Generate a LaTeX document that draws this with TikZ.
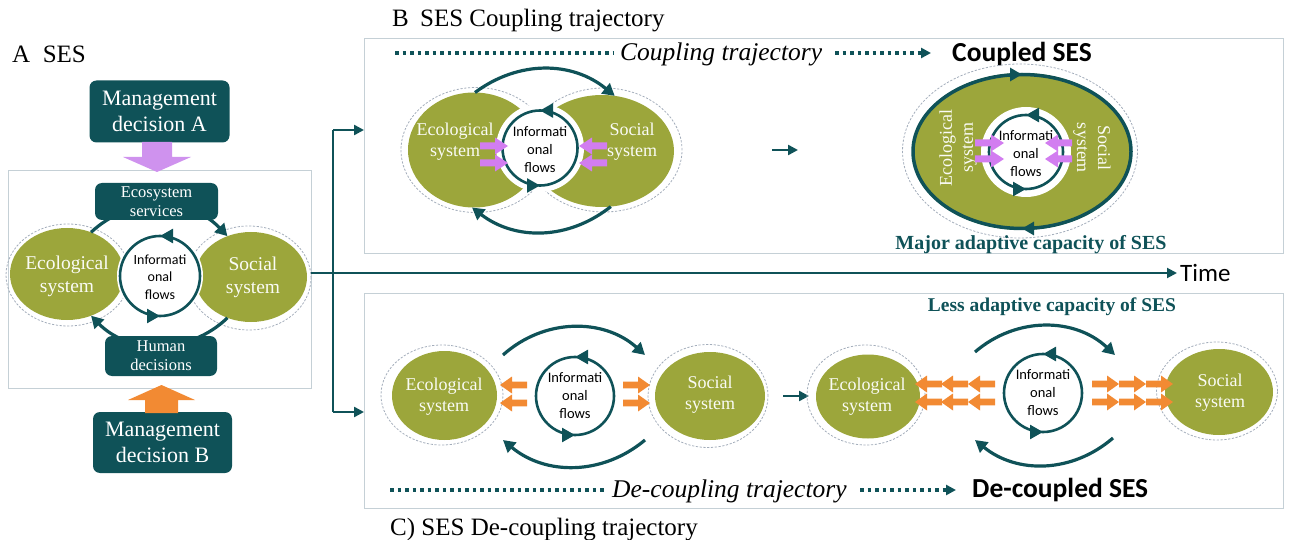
\documentclass[tikz,border=0pt]{standalone}
\usepackage{fontspec}
\setmainfont{Liberation Serif}
\newfontfamily\calfont{Carlito}
\usetikzlibrary{arrows.meta,shapes.geometric,decorations.markings}
\definecolor{sesteal}{HTML}{0F5258}
\definecolor{sesgreen}{HTML}{9CA63B}
\definecolor{sesviolet}{HTML}{D27DF0}
\definecolor{seslilac}{HTML}{CF92EE}
\definecolor{sesorange}{HTML}{F28A33}
\definecolor{panelline}{HTML}{C5D0D6}
\definecolor{halogray}{HTML}{A3ADBB}
% block arrow: colour, tail point, direction, length, head length, shaft half width, head half width
\newcommand{\fatarrow}[7]{%
  \fill[#1,shift={#2},rotate=#3] (0,-#6) -- ({#4-#5},-#6) -- ({#4-#5},-#7) -- (#4,0)
    -- ({#4-#5},#7) -- ({#4-#5},#6) -- (0,#6) -- cycle;}
\newcommand{\fs}[2]{\fontsize{#1}{#2}\selectfont}
\begin{document}
\begin{tikzpicture}[x=1pt,y=-1pt,
  panel/.style={draw=panelline, line width=1pt, inner sep=0pt, outer sep=0pt},
  sbox/.style={fill=sesteal, rounded corners=7pt, text=white, align=center, inner sep=0pt, outer sep=0pt},
  sys/.style={ellipse, fill=sesgreen, inner sep=0pt, outer sep=0pt},
  halo/.style={ellipse, draw=halogray, line width=0.8pt, dash pattern=on 2.2pt off 1.6pt, inner sep=0pt, outer sep=0pt},
  hole/.style={circle, fill=white, inner sep=0pt, outer sep=0pt},
  systxt/.style={text=white!95!sesgreen, align=center, font=\fs{18}{21}, inner sep=0pt},
  flowtxt/.style={align=center, font=\calfont\fs{14.5}{18}, inner sep=0pt},
  ring/.style={draw=sesteal, line width=2.6pt, postaction={decorate},
    decoration={markings,
      mark=at position 0.25 with {\arrow{Triangle[length=13pt,width=14pt]}},
      mark=at position 0.75 with {\arrow{Triangle[length=13pt,width=14pt]}}}},
  loopar/.style={draw=sesteal, line width=3.2pt, -{Triangle[length=12pt,width=13pt]}},
  conn/.style={draw=sesteal, line width=2.4pt},
  endtip/.style={-{Triangle[length=10pt,width=10pt]}},
  dots/.style={draw=sesteal, line width=3.7pt, dash pattern=on 3.7pt off 3.8pt},
  ttl/.style={font=\fs{25}{30}, inner sep=0pt},
]
\useasboundingbox (0,0) rectangle (1291,540);

% ---------------- panels and titles ----------------
\node[panel, minimum width=303, minimum height=217] (frameA) at (159.5,279.5) {};
\node[panel, minimum width=919, minimum height=215] (frameB) at (823.5,146.5) {};
\node[panel, minimum width=919, minimum height=215] (frameC) at (823.5,400.5) {};
\node[ttl, anchor=base west] (tA) at (12,63) {A\hspace{0.5em}SES};
\node[ttl, anchor=base west] (tB) at (392,27) {B\hspace{0.45em}SES Coupling trajectory};
\node[ttl, anchor=base west] (tC) at (390,535) {C) SES De-coupling trajectory};

% ---------------- A: the social-ecological system ----------------
\node[halo, minimum width=124, minimum height=102] (ecoAh) at (68,275) {};
\node[halo, minimum width=124, minimum height=104] (socAh) at (249,278) {};
\node[sys, minimum width=114, minimum height=92] (ecoA) at (67,274) {};
\node[sys, minimum width=112, minimum height=90] (socA) at (251,277) {};
\node[hole, minimum size=86] (holeA) at (160,276) {};
\draw[ring] (holeA.center) circle[radius=40pt];
\node[flowtxt, font=\calfont\fs{14}{17.5}] (infA) at (160,277) {Informati\\onal\\flows};
\node[systxt, font=\fs{19.5}{23}] (ecoAt) at (67,276) {Ecological\\system};
\node[systxt, font=\fs{19.5}{23}] (socAt) at (253,277) {Social\\system};
\draw[loopar] (ecoA.60) to[bend left=45] (socA.120);
\draw[loopar] (socA.240) to[bend left=45] (ecoA.300);
\node[sbox, minimum width=123, minimum height=37, font=\fs{16.5}{19}] (ess) at (156.5,201.5) {Ecosystem\\services};
\node[sbox, minimum width=112, minimum height=40, font=\fs{16.5}{19}] (hd) at (161,356) {Human\\decisions};
\node[sbox, minimum width=140, minimum height=62, font=\fs{22}{26}] (mdA) at (159.5,111.5) {Management\\decision A};
\node[sbox, minimum width=139, minimum height=61, font=\fs{22}{26}] (mdB) at (162.5,442.5) {Management\\decision B};
\fatarrow{seslilac}{(157,142)}{-90}{30}{15}{15}{34}
\fatarrow{sesorange}{(161.5,413)}{90}{28}{15}{16.5}{33.5}

% ---------------- links between the panels and time axis ----------------
\coordinate (hub) at (333,273);
\coordinate (jB) at (333,130);
\coordinate (jC) at (333,412);
\node[anchor=base west, font=\calfont\fs{25}{30}, inner sep=0pt] (timeT) at (1180,281) {Time};
\draw[conn] (frameA.east |- hub) -- (hub);
\draw[conn] (jB) -- (jC);
\draw[conn, endtip] (jB) -- (jB -| frameB.west);
\draw[conn, endtip] (jC) -- (jC -| frameC.west);
\draw[draw=sesteal, line width=2pt, endtip, shorten >=3pt] (hub) -- (hub -| timeT.west);

% ---------------- B: coupling trajectory ----------------
\coordinate (dB0) at (395,53);
\coordinate (dB1) at (613,53);
\coordinate (dB2) at (835,53);
\coordinate (dB3) at (931,53);
\draw[dots] (dB0) -- (dB1);
\node[anchor=base west, inner sep=0pt, font=\itshape\fs{25.5}{30}] (ctB) at (620,61) {Coupling trajectory};
\draw[dots, endtip] (dB2) -- (dB3);
\node[anchor=base west, inner sep=0pt, font=\calfont\bfseries\fs{27.5}{32}] (cpT) at (952,62) {Coupled SES};

\node[halo, minimum width=150, minimum height=125] (ecoBh) at (476,150) {};
\node[halo, minimum width=156, minimum height=124] (socBh) at (604,150) {};
\node[sys, minimum width=132, minimum height=115] (ecoB) at (474,150) {};
\node[sys, minimum width=144, minimum height=112] (socB) at (602,151) {};
\node[hole, minimum size=88] (holeB) at (540,148) {};
\draw[ring] (holeB.center) circle[radius=37.5pt];
\node[flowtxt] (infB) at (540,150) {Informati\\onal\\flows};
\node[systxt] (ecoBt) at (455,142) {Ecological\\system};
\node[systxt] (socBt) at (632,142) {Social\\system};
\draw[loopar] (ecoB.89) to[bend left=38] (socB.77);
\draw[loopar] (socB.-81) to[bend left=38] (ecoB.-92);
\fatarrow{sesviolet}{(480,146)}{0}{28}{13}{3.5}{8.5}
\fatarrow{sesviolet}{(480,163)}{0}{28}{13}{3.5}{8.5}
\fatarrow{sesviolet}{(607,146)}{180}{28}{13}{3.5}{8.5}
\fatarrow{sesviolet}{(607,163)}{180}{28}{13}{3.5}{8.5}

\coordinate (sB0) at (772,150);
\coordinate (sB1) at (798,150);
\draw[conn, endtip] (sB0) -- (sB1);

\node[halo, minimum width=235, minimum height=174] (cplh) at (1020,151) {};
\node[sys, minimum width=220, minimum height=157] (cpl) at (1022,151.5) {};
\draw[sesteal, line width=3.5pt, postaction={decorate},
  decoration={markings,
    mark=at position 0.25 with {\arrowreversed{Triangle[length=12pt,width=13pt]}},
    mark=at position 0.75 with {\arrowreversed{Triangle[length=12pt,width=13pt]}}}]
  (cpl.center) ellipse[x radius=109pt, y radius=77pt];
\node[hole, minimum size=90] (holeCp) at (1026,152) {};
\draw[ring] (holeCp.center) circle[radius=37pt];
\node[flowtxt] (infCp) at (1026,154) {Informati\\onal\\flows};
\node[systxt, rotate=90] (cplEco) at (958,148) {Ecological\\system};
\node[systxt, rotate=-90] (cplSoc) at (1092,148) {Social\\system};
\fatarrow{sesviolet}{(975,143)}{0}{29}{13}{3.5}{8.5}
\fatarrow{sesviolet}{(975,159)}{0}{29}{13}{3.5}{8.5}
\fatarrow{sesviolet}{(1072,143)}{180}{27}{13}{3.5}{8.5}
\fatarrow{sesviolet}{(1072,159)}{180}{27}{13}{3.5}{8.5}
\node[anchor=base, font=\bfseries\fs{20}{24}, text=sesteal, inner sep=0pt] (majT) at (1031,250) {Major adaptive capacity of SES};

% ---------------- C: de-coupling trajectory ----------------
\node[anchor=base, font=\bfseries\fs{19.5}{24}, text=sesteal, inner sep=0pt] (lessT) at (1052,312) {Less adaptive capacity of SES};

\node[halo, minimum width=122, minimum height=100] (ecoC1h) at (442,395) {};
\node[halo, minimum width=120, minimum height=103] (socC1h) at (708,396) {};
\node[sys, minimum width=105, minimum height=89] (ecoC1) at (444.5,395.5) {};
\node[sys, minimum width=110, minimum height=88] (socC1) at (710,396) {};
\node[flowtxt] (infC1) at (575,396) {Informati\\onal\\flows};
\draw[ring] (infC1.center) circle[radius=39pt];
\node[systxt] (ecoC1t) at (444,397) {Ecological\\system};
\node[systxt] (socC1t) at (710,395) {Social\\system};
\coordinate (aC1) at (503,355);
\coordinate (bC1) at (645,355);
\coordinate (cC1) at (645,440);
\coordinate (dC1) at (503,440);
\draw[loopar] (aC1) to[bend left=42] (bC1);
\draw[loopar] (cC1) to[bend left=40] (dC1);
\fatarrow{sesorange}{(527,385)}{180}{27}{12}{3.3}{8.5}
\fatarrow{sesorange}{(527,403)}{180}{27}{12}{3.3}{8.5}
\fatarrow{sesorange}{(623,385)}{0}{27}{12}{3.3}{8.5}
\fatarrow{sesorange}{(623,403)}{0}{27}{12}{3.3}{8.5}

\coordinate (sC0) at (783,396);
\coordinate (sC1) at (809,396);
\draw[conn, endtip] (sC0) -- (sC1);

\node[halo, minimum width=118, minimum height=100] (ecoC2h) at (866,395) {};
\node[halo, minimum width=121, minimum height=98] (socC2h) at (1217,391) {};
\node[sys, minimum width=104, minimum height=84] (ecoC2) at (868,396.5) {};
\node[sys, minimum width=108, minimum height=86] (socC2) at (1219,392) {};
\node[flowtxt] (infC2) at (1043,393) {Informati\\onal\\flows};
\draw[ring] (infC2.center) circle[radius=39pt];
\node[systxt] (ecoC2t) at (867,397) {Ecological\\system};
\node[systxt] (socC2t) at (1220,393) {Social\\system};
\coordinate (aC2) at (975,352);
\coordinate (bC2) at (1115,355);
\coordinate (cC2) at (1113,438);
\coordinate (dC2) at (975,440);
\draw[loopar] (aC2) to[bend left=42] (bC2);
\draw[loopar] (cC2) to[bend left=40] (dC2);
\foreach \t in {995,968,942}{
  \fatarrow{sesorange}{(\t,384)}{180}{27}{12}{3.3}{8.5}
  \fatarrow{sesorange}{(\t,402)}{180}{27}{12}{3.3}{8.5}}
\foreach \t in {1092,1119,1146}{
  \fatarrow{sesorange}{(\t,384)}{0}{27}{12}{3.3}{8.5}
  \fatarrow{sesorange}{(\t,402)}{0}{27}{12}{3.3}{8.5}}

\coordinate (dC0) at (390,490);
\coordinate (dCa) at (607,490);
\coordinate (dCb) at (860,490);
\coordinate (dCc) at (956,490);
\draw[dots] (dC0) -- (dCa);
\node[anchor=base west, inner sep=0pt, font=\itshape\fs{25.5}{30}] (dtC) at (612,497) {De-coupling trajectory};
\draw[dots, endtip] (dCb) -- (dCc);
\node[anchor=base west, inner sep=0pt, font=\calfont\bfseries\fs{27.5}{32}] (dcT) at (972,497) {De-coupled SES};
\end{tikzpicture}
\end{document}
